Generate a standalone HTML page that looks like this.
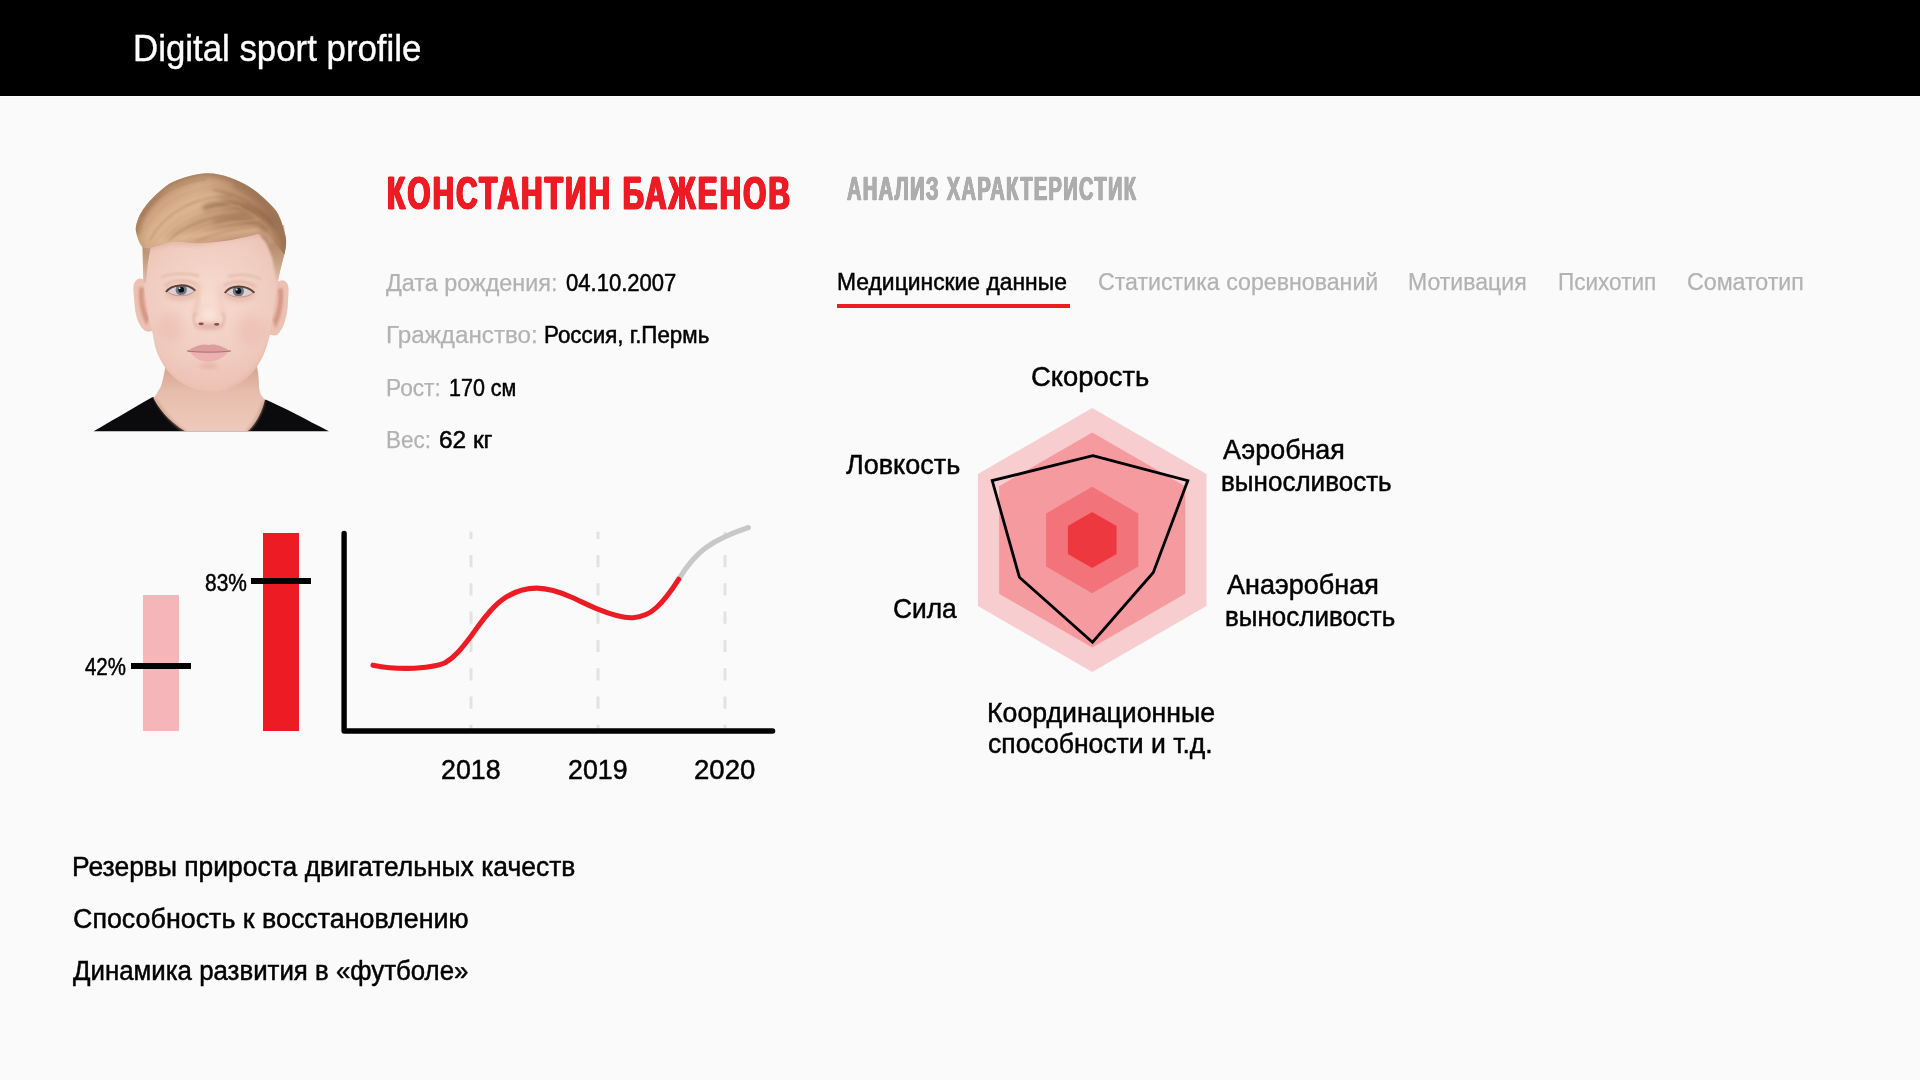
<!DOCTYPE html>
<html lang="ru">
<head>
<meta charset="utf-8">
<title>Digital sport profile</title>
<style>
html,body{margin:0;padding:0}
body{width:1920px;height:1080px;position:relative;overflow:hidden;background:#fafafa;font-family:"Liberation Sans",sans-serif}
header{position:absolute;left:0;top:0;width:1920px;height:96px;background:#000;border-bottom:1px solid #fff}
.t{position:absolute;margin:0;padding:0;white-space:pre;line-height:1;font-style:normal;text-decoration:none;transform-origin:0 0;list-style:none;display:block}
svg{position:absolute;overflow:visible}
ul,nav,dl,section,main{margin:0;padding:0}
.bar{position:absolute}
#bar1{left:143px;top:595px;width:36px;height:136px;background:#f6b6b9}
#bar2{left:263px;top:533px;width:36px;height:198px;background:#ed1c24}
.mark{position:absolute;height:6.4px;width:60px;background:#000}
#mk1{left:131px;top:662.6px}
#mk2{left:251px;top:577.8px}
#tabline{position:absolute;left:837px;top:304.1px;width:233px;height:3.8px;background:#ed1c24}
#brand{left:133.38px;top:29.8px;font-size:37px;font-weight:400;color:#fff;transform:scaleX(0.9411);-webkit-text-stroke:0.4px #fff}
#name{left:386.73px;top:169.5px;font-size:46.8px;font-weight:700;color:#ed1c24;transform:scaleX(0.635);-webkit-text-stroke:0.8px #ed1c24;letter-spacing:3.4px;text-shadow:0.5px 0 #ed1c24,-0.5px 0 #ed1c24,1px 0 #ed1c24,-1px 0 #ed1c24,1.4px 0 #ed1c24,-1.4px 0 #ed1c24}
#sub{left:847.1px;top:172.9px;font-size:32.3px;font-weight:700;color:#adadad;transform:scaleX(0.6203);-webkit-text-stroke:0.6px #adadad;letter-spacing:2.2px;text-shadow:0.5px 0 #adadad,-0.5px 0 #adadad,0.9px 0 #adadad,-0.9px 0 #adadad}
#l1{left:385.8px;top:272px;font-size:23px;font-weight:400;color:#b2b2b2;transform:scaleX(1.0168);-webkit-text-stroke:0.25px currentColor}
#v1{left:565.86px;top:272px;font-size:23.5px;font-weight:400;color:#000;transform:scaleX(0.9379);-webkit-text-stroke:0.5px currentColor}
#l2{left:385.6px;top:324.4px;font-size:23px;font-weight:400;color:#b2b2b2;transform:scaleX(1.0521);-webkit-text-stroke:0.25px currentColor}
#v2{left:544.16px;top:324.4px;font-size:23px;font-weight:400;color:#000;transform:scaleX(0.9719);-webkit-text-stroke:0.5px currentColor}
#l3{left:385.73px;top:376.6px;font-size:23px;font-weight:400;color:#b2b2b2;transform:scaleX(0.9865);-webkit-text-stroke:0.25px currentColor}
#v3{left:448.89px;top:376.6px;font-size:23.5px;font-weight:400;color:#000;transform:scaleX(0.9148);-webkit-text-stroke:0.5px currentColor}
#l4{left:385.75px;top:428.5px;font-size:23px;font-weight:400;color:#b2b2b2;transform:scaleX(0.9774);-webkit-text-stroke:0.25px currentColor}
#v4{left:438.51px;top:428.5px;font-size:23.5px;font-weight:400;color:#000;transform:scaleX(1.039);-webkit-text-stroke:0.5px currentColor}
#t1{left:836.65px;top:270.6px;font-size:23.5px;font-weight:400;color:#000;transform:scaleX(0.9731);-webkit-text-stroke:0.5px currentColor}
#t2{left:1097.81px;top:271px;font-size:23.5px;font-weight:400;color:#b2b2b2;transform:scaleX(0.9862);-webkit-text-stroke:0.25px currentColor}
#t3{left:1408.34px;top:271px;font-size:23.5px;font-weight:400;color:#b2b2b2;transform:scaleX(0.9814);-webkit-text-stroke:0.25px currentColor}
#t4{left:1558.08px;top:271px;font-size:23.5px;font-weight:400;color:#b2b2b2;transform:scaleX(0.9596);-webkit-text-stroke:0.25px currentColor}
#t5{left:1686.91px;top:271px;font-size:23.5px;font-weight:400;color:#b2b2b2;transform:scaleX(0.9871);-webkit-text-stroke:0.25px currentColor}
#p42{left:85.1px;top:655.2px;font-size:24px;font-weight:400;color:#000;transform:scaleX(0.8521);-webkit-text-stroke:0.5px currentColor}
#p83{left:205.33px;top:570.9px;font-size:24px;font-weight:400;color:#000;transform:scaleX(0.8723);-webkit-text-stroke:0.5px currentColor}
#y18{left:441.21px;top:757.3px;font-size:27px;font-weight:400;color:#000;transform:scaleX(0.9914);-webkit-text-stroke:0.5px currentColor}
#y19{left:568.31px;top:757.3px;font-size:27px;font-weight:400;color:#000;transform:scaleX(0.9914);-webkit-text-stroke:0.5px currentColor}
#y20{left:694.28px;top:757.3px;font-size:27px;font-weight:400;color:#000;transform:scaleX(1.0207);-webkit-text-stroke:0.5px currentColor}
#r1{left:1030.82px;top:363.3px;font-size:28px;font-weight:400;color:#000;transform:scaleX(0.9782);-webkit-text-stroke:0.5px currentColor}
#r2{left:845.8px;top:451px;font-size:28px;font-weight:400;color:#000;transform:scaleX(0.965);-webkit-text-stroke:0.5px currentColor}
#r3{left:892.61px;top:595px;font-size:28px;font-weight:400;color:#000;transform:scaleX(0.9396);-webkit-text-stroke:0.5px currentColor}
#r4a{left:1222.6px;top:435.7px;font-size:28px;font-weight:400;color:#000;transform:scaleX(0.96);-webkit-text-stroke:0.5px currentColor}
#r4b{left:1221.34px;top:467.7px;font-size:28px;font-weight:400;color:#000;transform:scaleX(0.9298);-webkit-text-stroke:0.5px currentColor}
#r5a{left:1226.7px;top:570.8px;font-size:28px;font-weight:400;color:#000;transform:scaleX(0.9647);-webkit-text-stroke:0.5px currentColor}
#r5b{left:1225.44px;top:602.5px;font-size:28px;font-weight:400;color:#000;transform:scaleX(0.9276);-webkit-text-stroke:0.5px currentColor}
#r6a{left:987.29px;top:698.6px;font-size:28px;font-weight:400;color:#000;transform:scaleX(0.953);-webkit-text-stroke:0.5px currentColor}
#r6b{left:987.65px;top:730.4px;font-size:28px;font-weight:400;color:#000;transform:scaleX(0.9479);-webkit-text-stroke:0.5px currentColor}
#b1{left:72.04px;top:854px;font-size:27px;font-weight:400;color:#000;transform:scaleX(0.9798);-webkit-text-stroke:0.5px currentColor}
#b2{left:73.01px;top:906px;font-size:27px;font-weight:400;color:#000;transform:scaleX(0.9944);-webkit-text-stroke:0.5px currentColor}
#b3{left:72.8px;top:957.8px;font-size:27px;font-weight:400;color:#000;transform:scaleX(0.9568);-webkit-text-stroke:0.5px currentColor}
</style>
</head>
<body>
<header><h1 id="brand" class="t">Digital sport profile</h1></header>
<main>
<section id="profile">
<svg id="photo" style="left:80px;top:160px" width="260" height="280" viewBox="80 160 260 280">
<defs>
<radialGradient id="skin" gradientUnits="userSpaceOnUse" cx="209" cy="300" r="112">
<stop offset="0" stop-color="#f7dcd0"/><stop offset="0.5" stop-color="#f1cdc1"/><stop offset="0.82" stop-color="#ecc1b3"/><stop offset="1" stop-color="#e2b2a1"/>
</radialGradient>
<linearGradient id="neck" gradientUnits="userSpaceOnUse" x1="0" y1="372" x2="0" y2="432">
<stop offset="0" stop-color="#d9a996"/><stop offset="0.35" stop-color="#e7beae"/><stop offset="1" stop-color="#eecabc"/>
</linearGradient>
<linearGradient id="hair" gradientUnits="userSpaceOnUse" x1="140" y1="190" x2="285" y2="240">
<stop offset="0" stop-color="#c59b75"/><stop offset="0.35" stop-color="#d1a983"/><stop offset="0.7" stop-color="#b48a66"/><stop offset="1" stop-color="#ad8260"/>
</linearGradient>
<linearGradient id="fadeR" gradientUnits="userSpaceOnUse" x1="0" y1="236" x2="0" y2="286">
<stop offset="0" stop-color="#ad8361"/><stop offset="0.45" stop-color="#c39c7e"/><stop offset="0.8" stop-color="#d9b59f"/><stop offset="1" stop-color="#e6c0b0"/>
</linearGradient>
<filter id="b05" filterUnits="userSpaceOnUse" x="80" y="160" width="260" height="280"><feGaussianBlur stdDeviation="0.5"/></filter>
<filter id="b1" filterUnits="userSpaceOnUse" x="80" y="160" width="260" height="280"><feGaussianBlur stdDeviation="1"/></filter>
<filter id="b2" filterUnits="userSpaceOnUse" x="80" y="160" width="260" height="280"><feGaussianBlur stdDeviation="2.2"/></filter>
<filter id="b4" filterUnits="userSpaceOnUse" x="80" y="160" width="260" height="280"><feGaussianBlur stdDeviation="4"/></filter>
<clipPath id="eyeL"><path d="M167 291.3 C172 284.3 187 283.3 194.5 290.5 C189 296 175 296.5 167 291.3 Z"/></clipPath>
<clipPath id="eyeR"><path d="M225.8 292.3 C231 284.8 246 285 253.3 292.3 C247 297.7 233 297.5 225.8 292.3 Z"/></clipPath>
<clipPath id="cut"><rect x="80" y="160" width="260" height="271.5"/></clipPath>
<clipPath id="faceclip"><path d="M142 225 L143.3 280 L146 300 L149 320 L152.1 331.1 L155.2 346.7 C156.6 351.5 158.3 355.8 160.4 359.6 C162.3 363.5 164.5 366.9 166.9 370 C169.7 373.4 172.7 376.4 175.9 379.1 C180 382.3 184.3 384.9 188.9 386.9 C193.2 388.8 197.5 390 201.9 390.7 C206.2 391.5 210.5 391.8 214.8 391.5 C219.2 391.2 223.5 390.5 227.8 389.4 C232.3 387.9 236.6 385.8 240.7 383 C244.4 380.4 247.9 377.4 251.1 373.9 C254 370.8 256.6 367.3 258.9 363.5 C261.1 360 263 356.1 264.6 351.9 C266.2 347.8 267.6 343.4 268.8 338.9 L270.6 332.4 L272 320 L275 300 L278 281 L280.1 271 L284.3 254.4 L286.1 240.6 L284 225 Z"/></clipPath>
<clipPath id="hairclip"><path id="hairshape" d="M135.7 229.4 C136 222 140 213 144.7 207.2 C150 200 160 190 169.7 183.6 C180 178 195 173.5 207.2 173.2 C222 173 238 180 248.9 186.4 C258 192 270 203 276.7 211.4 C281 218 285 232 286.1 240.6 C286.3 246 285.5 250 284.3 254.4 C281 250 277 245 272 240 C268 236 265 233.8 261.4 233.6 C255 234.5 248 236.5 241.9 237.8 C232 240 224 241.5 215.6 241.9 C208 242.8 200 243.4 193.3 243.3 C186 242.8 179 241.6 172.5 241.9 C166 242.5 160 245 154.4 246.8 C150 248 146 248.5 143 247.5 C139.5 244 137 238 135.7 229.4 Z"/></clipPath>
</defs>
<g clip-path="url(#cut)">
<!-- shirt -->
<path d="M93.2 431.5 C108 423 128 411 152.2 397.2 L266 399.8 C285 408 305 419 329.3 431.5 Z" fill="#0b0b0d"/>
<!-- neck -->
<path d="M166 360 C165 372 162 384 160.6 387 C158 392 155 396 153.4 398 C158 407 168 421 185.6 431.5 L247.4 431.5 C256 424 262 412 265 399.7 C261 396 259.5 392 259.2 388 C258.6 380 258.8 372 255.5 360 Z" fill="url(#neck)"/>
<path d="M158 400 C166 414 176 424 188 431.5 L183 431.5 C170 423 160 411 153.4 398 Z" fill="#c99884" opacity=".55" filter="url(#b1)"/>
<path d="M262 402 C258 414 252 424 245 431.5 L249 431.5 C257 424 263 412 265.4 400 Z" fill="#c99884" opacity=".55" filter="url(#b1)"/>
<!-- ears -->
<path d="M146 281.5 C140 275.5 133 279 133.4 290 L134.9 308 C136 318 140 328 145.3 331 C149 332.4 151 331.4 153.5 330 L150 290 Z" fill="#ecc0b2"/>
<path d="M276.5 283 C282 277.5 289.2 280.5 288.6 291 L287.6 308 C286.5 318 283 330 277.2 335 C273 336.4 270 334.4 267.5 333 L272 290 Z" fill="#ecc0b2"/>
<path d="M139.5 287 C137.5 298 140.5 315 146.5 325 L149 318 C144 308 143 296 144 288 Z" fill="#cf917e" opacity=".85" filter="url(#b1)"/>
<path d="M282.5 288 C284.5 299 281.5 318 275.5 328 L273 320 C278 310 279 298 278 289 Z" fill="#cf917e" opacity=".85" filter="url(#b1)"/>
<!-- face -->
<path d="M142 225 L143.3 280 L146 300 L149 320 L152.1 331.1 L155.2 346.7 C156.6 351.5 158.3 355.8 160.4 359.6 C162.3 363.5 164.5 366.9 166.9 370 C169.7 373.4 172.7 376.4 175.9 379.1 C180 382.3 184.3 384.9 188.9 386.9 C193.2 388.8 197.5 390 201.9 390.7 C206.2 391.5 210.5 391.8 214.8 391.5 C219.2 391.2 223.5 390.5 227.8 389.4 C232.3 387.9 236.6 385.8 240.7 383 C244.4 380.4 247.9 377.4 251.1 373.9 C254 370.8 256.6 367.3 258.9 363.5 C261.1 360 263 356.1 264.6 351.9 C266.2 347.8 267.6 343.4 268.8 338.9 L270.6 332.4 L272 320 L275 300 L278 281 L280.1 271 L284.3 254.4 L286.1 240.6 L284 225 Z" fill="url(#skin)"/>
<g clip-path="url(#faceclip)">
<!-- jaw shadow -->
<path d="M150 335 C158 372 184 393 208 395 C234 394 260 372 272 335 L280 340 C266 388 236 402 208 402 C180 402 152 388 142 340 Z" fill="#d39f8c" opacity=".4" filter="url(#b2)"/>
<!-- cheeks -->
<ellipse cx="170" cy="328" rx="13" ry="15" fill="#e9aea3" opacity=".32" filter="url(#b4)"/>
<ellipse cx="250" cy="330" rx="13" ry="15" fill="#e9aea3" opacity=".32" filter="url(#b4)"/>
<!-- eye sockets -->
<ellipse cx="181" cy="293" rx="16" ry="8" fill="#e2b0a4" opacity=".6" filter="url(#b2)"/>
<ellipse cx="239" cy="294" rx="16" ry="8" fill="#e2b0a4" opacity=".6" filter="url(#b2)"/>
<path d="M165 286 C172 279.5 188 279 197 285" stroke="#e0aea3" stroke-width="3" fill="none" opacity=".6" filter="url(#b1)"/>
<path d="M223.5 286 C231 280 247 280.5 256 287" stroke="#e0aea3" stroke-width="3" fill="none" opacity=".6" filter="url(#b1)"/>
<!-- side fades -->
<path d="M256 230 L288 236 L286 256 L281.5 272 L278.6 286 L275.6 276 L272.2 258 L266.5 243.3 Z" fill="url(#fadeR)" filter="url(#b1)"/>
<path d="M134 234 L151 245 L148 262 L146 283 L141 283 Z" fill="url(#fadeR)" filter="url(#b05)"/>
</g>
<!-- hair -->
<use href="#hairshape" fill="url(#hair)" filter="url(#b05)"/>
<g clip-path="url(#hairclip)" fill="none" stroke-linecap="round">
<path d="M135.8 231 C137 222 141 214 146.7 206.3 C152 199 159 192 163.3 188 C172 181.5 186 176 205 173 C222 173 236 180 250.8 188.8 C262 198 272 210 280 224.7 C284 236 286 246 285.4 258" stroke="#8f694c" stroke-width="8" opacity=".55" filter="url(#b2)"/>
<path d="M152 238 C162 218 182 204 212 200" stroke="#e0bb94" stroke-width="18" opacity=".75" filter="url(#b4)"/>
<path d="M160 243 C185 234 215 236 258 228" stroke="#e0b993" stroke-width="7" opacity=".8" filter="url(#b2)"/>
<path d="M206 208 C226 200 250 204 272 222" stroke="#8d6549" stroke-width="7" opacity=".6" filter="url(#b2)"/>
<path d="M216 222 C232 216 250 218 268 230" stroke="#94694d" stroke-width="4" opacity=".55" filter="url(#b2)"/>
<path d="M236 186 C254 194 270 210 281 236" stroke="#9c7257" stroke-width="6" opacity=".55" filter="url(#b2)"/>
<g stroke-width="1.3" opacity=".42" filter="url(#b1)">
<path d="M150 240 C165 212 195 196 232 196" stroke="#8f6850"/>
<path d="M158 243 C176 218 206 206 240 206" stroke="#e8c4a8"/>
<path d="M168 241 C188 222 216 214 250 214" stroke="#8f6850"/>
<path d="M180 241 C200 226 226 222 258 220" stroke="#e8c4a8"/>
<path d="M196 242 C214 232 240 229 264 226" stroke="#8f6850"/>
<path d="M144 226 C156 204 180 188 212 184" stroke="#e2bc9f"/>
<path d="M142 216 C156 196 178 183 206 179" stroke="#8f6850"/>
<path d="M214 190 C240 194 262 208 276 230" stroke="#7e5a42"/>
<path d="M210 200 C236 202 258 214 272 234" stroke="#dcb598"/>
</g>
</g>
<!-- hairline softening -->
<path d="M146 248 C152 247.6 160 245 166 243 C176 241 186 243 196 243.4 C204 243 210 241 216 239.7 C226 238 236 236.6 246 235 C254 233.6 260 233.4 265 233.8 C268 236 270 240 272 243.5" stroke="#dcae98" stroke-width="4" fill="none" opacity=".7" filter="url(#b2)"/>
<!-- brows -->
<path d="M161 277.5 C170 273 188 272.5 199 276" stroke="#e4bfab" stroke-width="2.6" fill="none" filter="url(#b1)"/>
<path d="M228 276.5 C238 273.5 252 274.5 261 279" stroke="#e4bfab" stroke-width="2.6" fill="none" filter="url(#b1)"/>
<!-- eyes -->
<g filter="url(#b05)">
<path d="M167 291.3 C172 284.3 187 283.3 194.5 290.5 C189 296 175 296.5 167 291.3 Z" fill="#d8d0d2"/>
<path d="M225.8 292.3 C231 284.8 246 285 253.3 292.3 C247 297.7 233 297.5 225.8 292.3 Z" fill="#d8d0d2"/>
<g clip-path="url(#eyeL)"><circle cx="181.2" cy="289.7" r="5.6" fill="#6b7784"/><circle cx="181.2" cy="289.7" r="2.9" fill="#101015"/><circle cx="179.6" cy="288.2" r=".9" fill="#e8eef2"/></g>
<g clip-path="url(#eyeR)"><circle cx="238.4" cy="291" r="5.6" fill="#6b7784"/><circle cx="238.4" cy="291" r="2.9" fill="#101015"/><circle cx="236.8" cy="289.5" r=".9" fill="#e8eef2"/></g>
<path d="M166 292 C171.5 284 187.5 282.8 195.5 290.8" stroke="#5a3f35" stroke-width="2" fill="none"/>
<path d="M224.8 293 C230.5 284.3 246.5 284.5 254.3 292.8" stroke="#5a3f35" stroke-width="2" fill="none"/>
<path d="M168.5 292.6 C175 297.2 189 296.8 194 291.4" stroke="#c48f86" stroke-width=".9" fill="none"/>
<path d="M227.3 293.6 C233 298.4 247 298.2 252.6 293.2" stroke="#c48f86" stroke-width=".9" fill="none"/>
</g>
<!-- nose -->
<path d="M199 284 C198 298 196 308 194.5 316" stroke="#e9bfae" stroke-width="4" fill="none" opacity=".8" filter="url(#b2)"/>
<path d="M219 284 C220 298 222 308 223.5 316" stroke="#ecc6b6" stroke-width="4" fill="none" opacity=".6" filter="url(#b2)"/>
<ellipse cx="209" cy="326.5" rx="14" ry="3" fill="#d99f90" opacity=".7" filter="url(#b2)"/>
<ellipse cx="209" cy="315" rx="7" ry="6" fill="#fae6dc" opacity=".7" filter="url(#b2)"/>
<ellipse cx="201.1" cy="323.8" rx="2.7" ry="1.4" fill="#8a4f44" filter="url(#b05)"/>
<ellipse cx="216.7" cy="324.3" rx="2.7" ry="1.4" fill="#8a4f44" filter="url(#b05)"/>
<path d="M195.5 313 C192.5 317 192.8 323 197 326.5" stroke="#d9a592" stroke-width="1.6" fill="none" opacity=".8" filter="url(#b1)"/>
<path d="M222.5 313 C225.5 317 225.2 323 221 326.5" stroke="#d9a592" stroke-width="1.6" fill="none" opacity=".8" filter="url(#b1)"/>
<!-- mouth -->
<g filter="url(#b05)">
<path d="M187.5 351 C195 345.5 203 343.2 208.5 345 C214 343.2 222 346 230.5 351 C222 352.4 196 352.4 187.5 351 Z" fill="#dd9d9d"/>
<path d="M189.5 351.6 C200 352.8 218 352.8 228.5 351.6 C223 359.5 214 361.8 208.5 361.8 C202 361.8 195 359 189.5 351.6 Z" fill="#edb1b2"/>
<path d="M187 351 C198 352.6 220 352.6 231 351" stroke="#a86a6a" stroke-width="1" fill="none"/>
</g>
<ellipse cx="208.5" cy="366" rx="10" ry="2.4" fill="#dba692" opacity=".6" filter="url(#b2)"/>
</g>
</svg>
<h2 id="name" class="t">КОНСТАНТИН БАЖЕНОВ</h2>
<dl id="info">
<dt id="l1" class="t">Дата рождения:</dt><dd id="v1" class="t">04.10.2007</dd>
<dt id="l2" class="t">Гражданство:</dt><dd id="v2" class="t">Россия, г.Пермь</dd>
<dt id="l3" class="t">Рост:</dt><dd id="v3" class="t">170 см</dd>
<dt id="l4" class="t">Вес:</dt><dd id="v4" class="t">62 кг</dd>
</dl>
</section>
<section id="dynamics">
<div class="bar" id="bar1"></div><div class="mark" id="mk1"></div><span id="p42" class="t">42%</span>
<div class="bar" id="bar2"></div><div class="mark" id="mk2"></div><span id="p83" class="t">83%</span>
<svg id="chart" style="left:330px;top:510px" width="460" height="290" viewBox="330 510 460 290">
<g stroke="#e2e2e2" stroke-width="3" stroke-dasharray="12.2 16.1" stroke-dashoffset="5.1" fill="none">
<path d="M471 531.8 V730"/><path d="M598 531.8 V730"/><path d="M725 531.8 V730"/>
</g>
<path d="M678.6 579.3 C688 564 697 554 706 547.6 C713 542.5 719 539.5 724.7 536.9 C733 533 741 530 748.4 527.5" stroke="#c8c8c8" stroke-width="5.1" stroke-linecap="round" fill="none"/>
<path d="M373 665.2 C385 667.5 396 668.6 407.9 668.4 C422 668 436 667 445.5 662.5 C455 657 462 648 471 636.2 C481 622 491 608 501.9 600 C513 592 525 588 536.8 588.1 C549 588.3 560 592 571.7 597.3 C581 601.5 590 606 598.5 609.4 C611 614.5 622 618.3 633 617.7 C643 617 650 613.5 656.5 607.5 C665 599.5 671.5 590.5 678.6 579.3" stroke="#ed1c24" stroke-width="5.1" stroke-linecap="round" fill="none"/>
<path d="M344.1 533.5 V731 H772.6" stroke="#000" stroke-width="5.4" stroke-linecap="round" stroke-linejoin="round" fill="none"/>
</svg>
<span id="y18" class="t">2018</span><span id="y19" class="t">2019</span><span id="y20" class="t">2020</span>
</section>
<section id="analysis">
<h3 id="sub" class="t">АНАЛИЗ ХАРАКТЕРИСТИК</h3>
<nav id="tabs"><a id="t1" class="t">Медицинские данные</a><a id="t2" class="t">Статистика соревнований</a><a id="t3" class="t">Мотивация</a><a id="t4" class="t">Психотип</a><a id="t5" class="t">Соматотип</a><div id="tabline"></div></nav>
<svg id="radar" style="left:960px;top:390px" width="260" height="300" viewBox="960 390 260 300">
<path d="M1092.2 408.0 L1206.5 474.0 L1206.5 606.0 L1092.2 672.0 L977.9 606.0 L977.9 474.0 Z" fill="#f7cdcf"/>
<path d="M1092.2 432.5 L1185.3 486.2 L1185.3 593.8 L1092.2 647.5 L999.1 593.8 L999.1 486.2 Z" fill="#f59ba0"/>
<path d="M1092.2 486.8 L1138.3 513.4 L1138.3 566.6 L1092.2 593.2 L1046.1 566.6 L1046.1 513.4 Z" fill="#f27379"/>
<path d="M1092.2 511.9 L1116.5 526.0 L1116.5 554.0 L1092.2 568.1 L1067.9 554.0 L1067.9 526.0 Z" fill="#ee3840"/>
<path d="M1092.8 455.6 L1187.8 480.6 L1153.3 572.5 L1092.5 642.2 L1019.4 577.2 L992.2 480.6 Z" fill="none" stroke="#000" stroke-width="2.8" stroke-linejoin="miter"/>
</svg>
<span id="r1" class="t">Скорость</span><span id="r2" class="t">Ловкость</span><span id="r3" class="t">Сила</span><span id="r4a" class="t">Аэробная</span><span id="r4b" class="t">выносливость</span><span id="r5a" class="t">Анаэробная</span><span id="r5b" class="t">выносливость</span><span id="r6a" class="t">Координационные</span><span id="r6b" class="t">способности и т.д.</span>
</section>
<ul id="notes">
<li id="b1" class="t">Резервы прироста двигательных качеств</li><li id="b2" class="t">Способность к восстановлению</li><li id="b3" class="t">Динамика развития в «футболе»</li>
</ul>
</main>
</body>
</html>
